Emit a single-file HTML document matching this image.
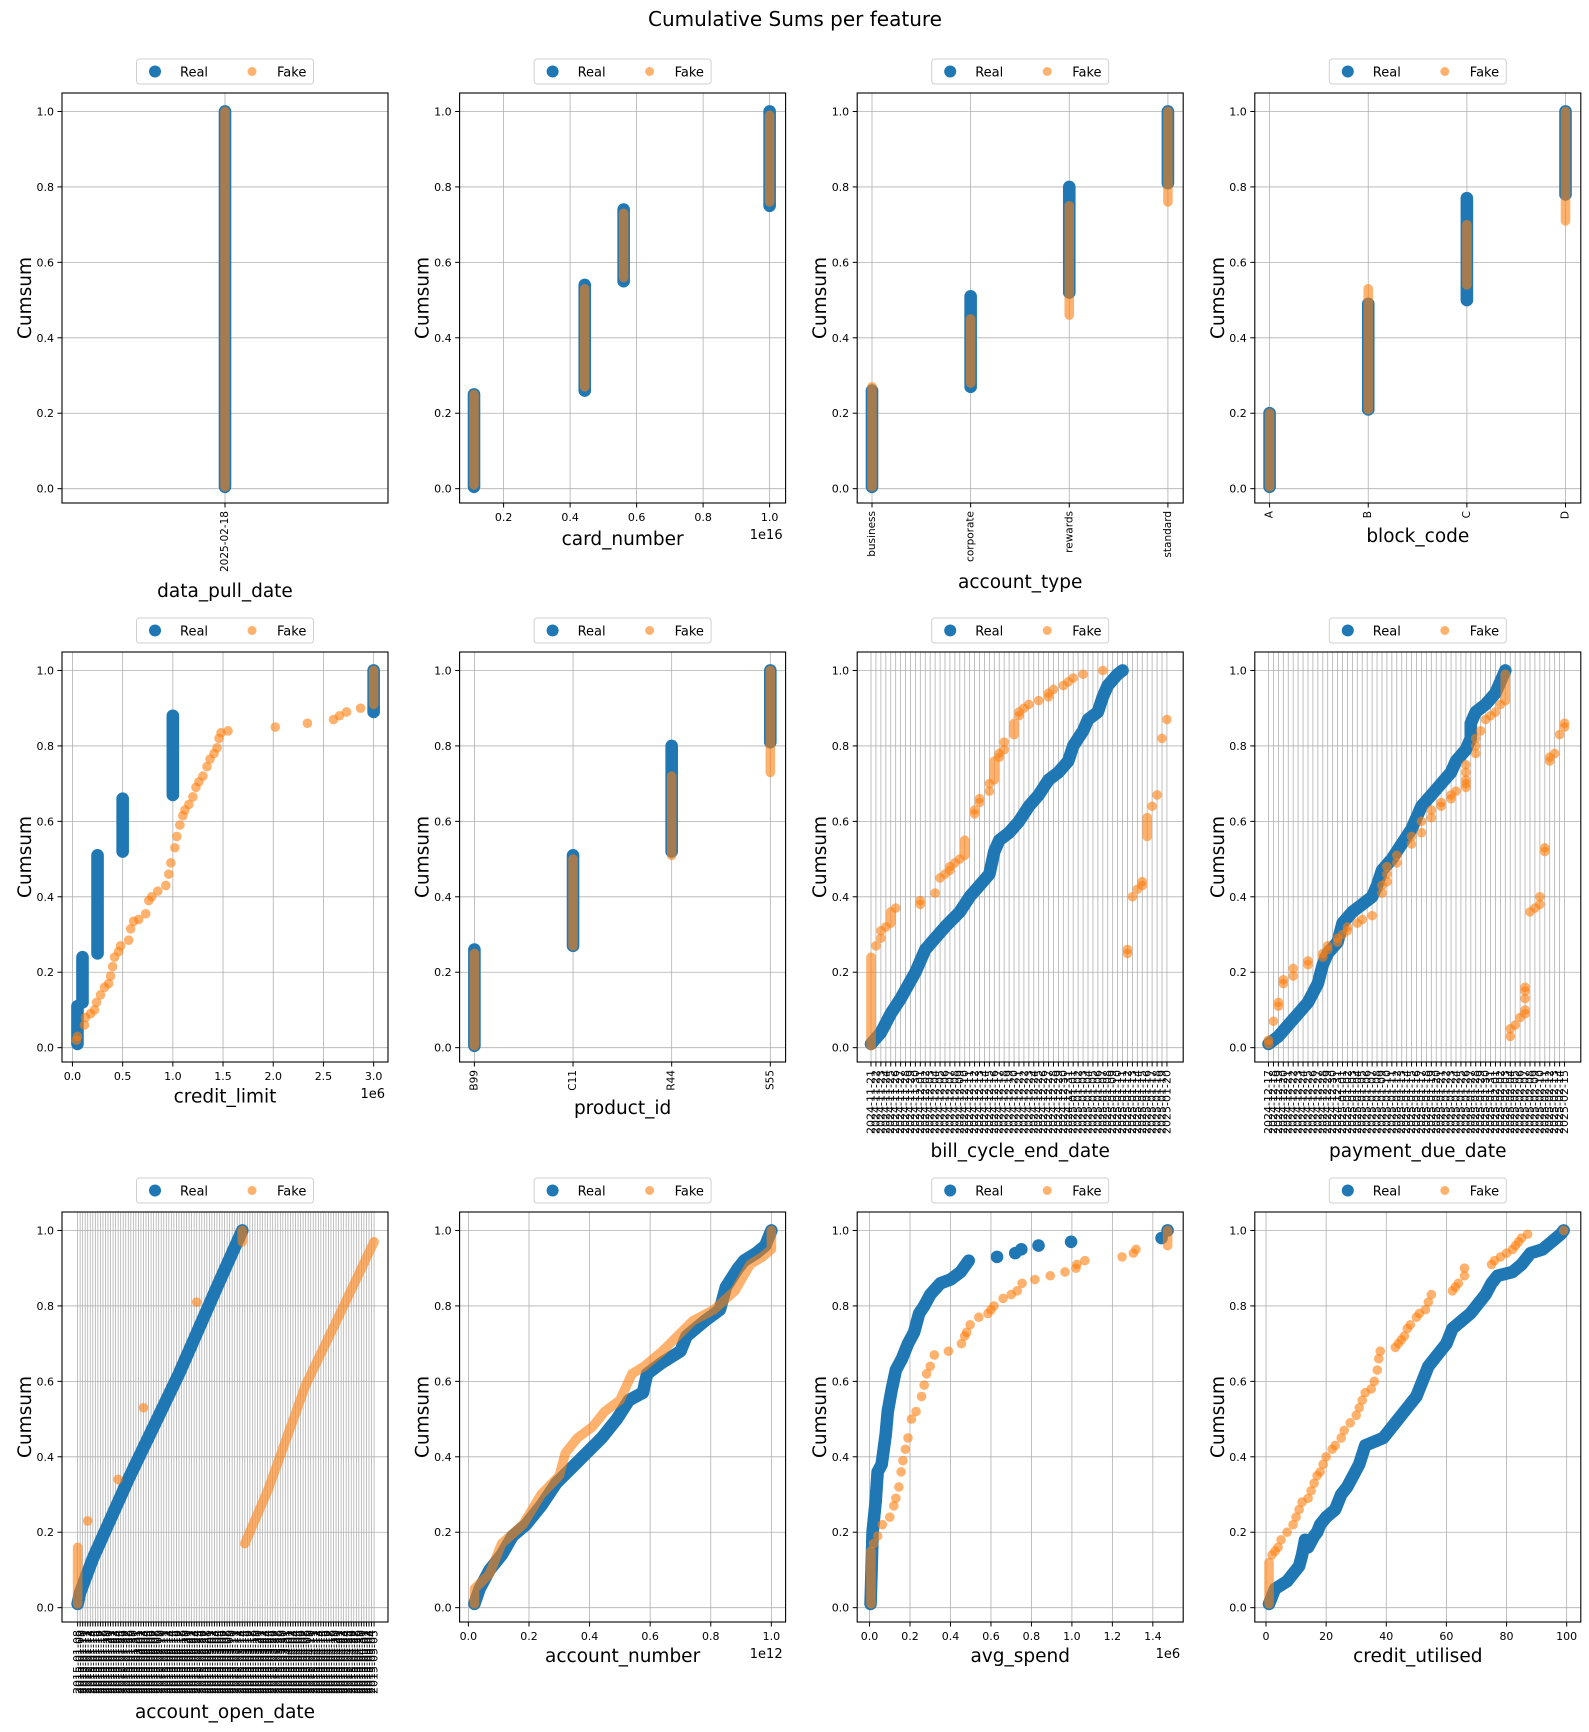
<!DOCTYPE html>
<html><head><meta charset="utf-8"><style>
html,body{margin:0;padding:0;background:#fff;}
svg{display:block;font-family:"DejaVu Sans","Liberation Sans",sans-serif;}
</style></head><body>
<svg id="chart" width="1589" height="1732" viewBox="0 0 1589 1732" xmlns="http://www.w3.org/2000/svg">
<rect x="0" y="0" width="1589" height="1732" fill="#fff"/>
<text x="795" y="26" font-size="20" text-anchor="middle" fill="#000">Cumulative Sums per feature</text>
</svg>
<script>
// ---------- data ----------
const dataPullCats=['2025-02-18'];
const dataPullRealRanges=[[0,0.005,1.0]];
const dataPullFakeRanges=[[0,0.005,1.0]];

const cardTicks=[0.2,0.4,0.6,0.8,1.0];
const cardRealRanges=[[0.111,0.005,0.25],[0.444,0.26,0.54],[0.561,0.55,0.74],[1.0,0.75,1.0]];
const cardFakeRanges=[[0.111,0.01,0.25],[0.444,0.27,0.53],[0.561,0.56,0.73],[1.0,0.76,0.99]];

const accountTypeCats=['business','corporate','rewards','standard'];
const accountTypeRealRanges=[[0,0.005,0.26],[1,0.27,0.51],[2,0.52,0.80],[3,0.81,1.0]];
const accountTypeFakeRanges=[[0,0.005,0.27],[1,0.28,0.45],[2,0.46,0.75],[3,0.76,1.0]];

const blockCodeCats=['A','B','C','D'];
const blockCodeRealRanges=[[0,0.005,0.20],[1,0.21,0.49],[2,0.50,0.77],[3,0.78,1.0]];
const blockCodeFakeRanges=[[0,0.005,0.20],[1,0.21,0.53],[2,0.54,0.70],[3,0.71,1.0]];

const creditLimitTicks=[0,0.5,1.0,1.5,2.0,2.5,3.0];
const creditLimitRealRanges=[[0.05,0.01,0.11],[0.1,0.12,0.24],[0.25,0.25,0.51],[0.5,0.52,0.66],[1.0,0.67,0.88],[3.0,0.89,1.0]];
const creditLimitFakeRanges=[[3.0,0.91,1.0]];
const creditLimitFakePoints=[[0.04,0.02],[0.05,0.03],[0.12,0.06],[0.13,0.08],[0.18,0.09],[0.22,0.10],[0.24,0.12],[0.28,0.14],[0.32,0.16],[0.36,0.17],[0.38,0.19],[0.40,0.215],[0.42,0.24],[0.46,0.255],[0.48,0.27],[0.56,0.285],[0.58,0.315],[0.61,0.335],[0.66,0.34],[0.73,0.355],[0.76,0.39],[0.79,0.40],[0.85,0.415],[0.93,0.43],[0.96,0.46],[0.98,0.49],[1.02,0.53],[1.04,0.56],[1.07,0.59],[1.10,0.615],[1.12,0.63],[1.16,0.645],[1.20,0.665],[1.23,0.69],[1.26,0.705],[1.30,0.72],[1.34,0.745],[1.37,0.765],[1.41,0.78],[1.44,0.795],[1.46,0.82],[1.48,0.835],[1.55,0.84],[2.02,0.85],[2.34,0.86],[2.60,0.87],[2.66,0.88],[2.73,0.89],[2.87,0.90]];

const productCats=['B99','C11','R44','S55'];
const productRealRanges=[[0,0.005,0.26],[1,0.27,0.51],[2,0.52,0.80],[3,0.81,1.0]];
const productFakeRanges=[[0,0.005,0.25],[1,0.27,0.50],[2,0.51,0.72],[3,0.73,1.0]];

const billCycleRealLine=[[0,0.01],[2,0.04],[4,0.09],[6,0.13],[9,0.2],[11,0.26],[13,0.29],[15,0.32],[18,0.36],[20,0.40],[22,0.43],[24,0.46],[25,0.52],[26,0.55],[28,0.57],[30,0.60],[32,0.64],[34,0.67],[36,0.71],[38,0.73],[40,0.76],[41,0.80],[43,0.84],[44,0.87],[46,0.89],[47,0.93],[48,0.96],[50,0.99],[51,1.0]];
const billCycleFakeRanges=[[0,0.005,0.24],[4,0.33,0.36],[19,0.51,0.55],[25,0.71,0.76],[29,0.83,0.86],[56,0.56,0.61]];
const billCycleFakePoints=[[1,0.27],[2,0.29],[2,0.31],[3,0.32],[5,0.37],[10,0.38],[10,0.39],[13,0.41],[14,0.45],[15,0.46],[16,0.47],[16,0.48],[17,0.49],[18,0.50],[21,0.62],[21,0.63],[22,0.65],[22,0.66],[24,0.68],[24,0.70],[26,0.77],[26,0.78],[27,0.79],[27,0.81],[30,0.88],[30,0.89],[31,0.90],[32,0.91],[34,0.92],[36,0.93],[36,0.94],[37,0.95],[39,0.96],[40,0.97],[41,0.98],[43,0.99],[47,1.0],[52,0.25],[52,0.26],[53,0.40],[54,0.42],[55,0.43],[55,0.44],[57,0.64],[58,0.67],[59,0.82],[60,0.87]];

const paymentRealLine=[[0,0.01],[2,0.03],[4,0.06],[6,0.09],[8,0.12],[10,0.17],[11,0.22],[12,0.25],[14,0.28],[15,0.33],[17,0.36],[19,0.38],[21,0.40],[22,0.43],[23,0.47],[25,0.50],[27,0.54],[29,0.58],[30,0.61],[31,0.64],[33,0.67],[35,0.70],[37,0.73],[38,0.76],[40,0.79],[41,0.82],[41,0.86],[42,0.89],[44,0.91],[46,0.94],[47,0.97],[48,1.0]];
const paymentFakeRanges=[[48,0.92,0.99]];
const paymentFakePoints=[[0,0.01],[0,0.02],[1,0.07],[2,0.11],[2,0.12],[3,0.17],[3,0.18],[5,0.19],[5,0.21],[8,0.22],[8,0.23],[11,0.24],[11,0.25],[12,0.26],[12,0.27],[14,0.28],[14,0.29],[15,0.30],[16,0.31],[16,0.32],[18,0.33],[19,0.34],[21,0.35],[23,0.41],[23,0.43],[24,0.44],[24,0.46],[24,0.48],[26,0.49],[26,0.51],[29,0.54],[29,0.56],[31,0.57],[31,0.60],[33,0.61],[33,0.63],[35,0.64],[35,0.65],[37,0.66],[37,0.67],[38,0.68],[40,0.69],[40,0.70],[40,0.71],[40,0.73],[40,0.75],[42,0.78],[42,0.80],[42,0.82],[43,0.84],[44,0.87],[45,0.88],[46,0.89],[47,0.91],[49,0.03],[49,0.05],[50,0.06],[51,0.08],[52,0.09],[52,0.10],[52,0.13],[52,0.15],[52,0.16],[53,0.36],[54,0.37],[55,0.38],[55,0.40],[56,0.52],[56,0.53],[57,0.76],[57,0.77],[58,0.78],[59,0.83],[60,0.85],[60,0.86]];

const openRealLine=[[0,0.01],[1,0.04],[6,0.13],[20,0.34],[40,0.62],[55,0.85],[65,1.0]];
const openFakeRanges=[[0,0.01,0.16],[65,0.97,1.0]];
const openFakePoints=[[4,0.23],[16,0.34],[26,0.53],[47,0.81]];
const openFakeLine=[[66,0.17],[75,0.31],[90,0.59],[105,0.80],[117,0.97]];

const acctNumTicks=[0,0.2,0.4,0.6,0.8,1.0];
const acctNumRealLine=[[0.02,0.01],[0.037,0.05],[0.07,0.10],[0.11,0.14],[0.146,0.19],[0.19,0.22],[0.24,0.27],[0.29,0.33],[0.34,0.37],[0.39,0.41],[0.44,0.45],[0.49,0.50],[0.53,0.55],[0.576,0.57],[0.59,0.62],[0.64,0.65],[0.70,0.68],[0.72,0.72],[0.78,0.76],[0.83,0.79],[0.85,0.85],[0.89,0.90],[0.91,0.92],[0.95,0.94],[0.98,0.96],[1.0,1.0]];
const acctNumFakeLine=[[0.02,0.01],[0.02,0.05],[0.07,0.09],[0.11,0.17],[0.18,0.22],[0.24,0.30],[0.30,0.35],[0.32,0.41],[0.36,0.45],[0.41,0.48],[0.45,0.52],[0.50,0.55],[0.54,0.62],[0.58,0.64],[0.64,0.68],[0.69,0.72],[0.74,0.76],[0.81,0.79],[0.88,0.84],[0.93,0.91],[0.97,0.93],[1.0,0.95],[1.0,1.0]];

const avgSpendTicks=[0,0.2,0.4,0.6,0.8,1.0,1.2,1.4];
const avgSpendRealLine=[[0.005,0.01],[0.01,0.10],[0.015,0.20],[0.03,0.28],[0.04,0.36],[0.06,0.38],[0.08,0.46],[0.09,0.52],[0.11,0.58],[0.13,0.63],[0.16,0.66],[0.19,0.70],[0.22,0.73],[0.245,0.78],[0.27,0.80],[0.30,0.83],[0.35,0.86],[0.40,0.87],[0.45,0.89],[0.49,0.92]];
const avgSpendRealPoints=[[0.63,0.93],[0.72,0.94],[0.75,0.95],[0.835,0.96],[0.996,0.97],[1.443,0.98],[1.473,1.0]];
const avgSpendFakeRanges=[[0.007,0.01,0.15],[1.473,0.96,1.0]];
const avgSpendFakePoints=[[0.02,0.17],[0.04,0.19],[0.063,0.22],[0.10,0.24],[0.12,0.27],[0.13,0.29],[0.145,0.32],[0.156,0.36],[0.165,0.39],[0.177,0.42],[0.19,0.45],[0.207,0.50],[0.23,0.52],[0.257,0.56],[0.27,0.59],[0.282,0.62],[0.30,0.64],[0.32,0.67],[0.39,0.68],[0.454,0.70],[0.47,0.72],[0.48,0.73],[0.497,0.75],[0.54,0.77],[0.585,0.78],[0.60,0.79],[0.615,0.80],[0.66,0.82],[0.70,0.83],[0.73,0.84],[0.754,0.86],[0.817,0.87],[0.893,0.88],[0.966,0.89],[1.02,0.90],[1.025,0.91],[1.064,0.92],[1.248,0.93],[1.304,0.94],[1.317,0.95]];

const utilTicks=[0,20,40,60,80,100];
const utilRealLine=[[1,0.01],[2,0.03],[3,0.05],[5,0.06],[7,0.07],[9,0.09],[11,0.11],[12,0.14],[13,0.18],[14,0.16],[16,0.19],[17,0.20],[18,0.22],[20,0.24],[23,0.26],[25,0.30],[27,0.32],[29,0.35],[31,0.38],[33,0.43],[36,0.44],[39,0.45],[41,0.47],[44,0.50],[47,0.53],[50,0.56],[52,0.60],[54,0.64],[57,0.67],[60,0.70],[62,0.74],[65,0.76],[68,0.78],[70,0.80],[73,0.83],[75,0.86],[77,0.88],[82,0.89],[85,0.91],[88,0.94],[92,0.95],[95,0.97],[98,0.99],[99,1.0]];
const utilFakeRanges=[[1,0.01,0.12]];
const utilFakePoints=[[2,0.14],[3,0.15],[4,0.16],[5,0.18],[7,0.20],[9,0.22],[10,0.24],[11,0.26],[12,0.28],[14,0.29],[15,0.31],[16,0.33],[17,0.35],[18,0.36],[19,0.38],[20,0.40],[22,0.42],[23,0.43],[25,0.45],[26,0.47],[28,0.49],[30,0.51],[31,0.53],[32,0.55],[33,0.57],[35,0.58],[36,0.60],[37,0.63],[37.5,0.66],[38,0.68],[43,0.69],[44,0.70],[45,0.71],[46,0.72],[47,0.74],[48,0.75],[50,0.77],[51,0.78],[53,0.79],[54,0.81],[55,0.83],[62,0.84],[63,0.85],[64,0.86],[66,0.88],[66,0.90],[75,0.91],[76,0.92],[78,0.93],[80,0.94],[82,0.95],[83,0.96],[84,0.97],[85,0.98],[87,0.99],[99,1.0]];

const yTicks=[0,0.2,0.4,0.6,0.8,1.0];

// ---------- date tick labels ----------
function dateLabels(start,n){const out=[];const d=new Date(start+'T00:00:00Z');for(let i=0;i<n;i++){out.push(d.toISOString().slice(0,10));d.setUTCDate(d.getUTCDate()+1);}return out;}
const billCycleCats=dateLabels('2024-11-21',61);
const paymentCats=dateLabels('2024-12-17',61);
const openCats=dateLabels('2015-01-08',118);

// ---------- layout ----------
const NS='http://www.w3.org/2000/svg';
const svg=document.getElementById('chart');
const COLX=[62,459.6,857.2,1254.8], ROWY=[93,652,1212], W=326, H=410;
const YMIN=-0.038, YMAX=1.049;
const BLUE='#1f77b4', ORANGE='#ff7f0e';
const RR=6.3, RF=4.8, FA=0.6;

function mk(tag,parent,name,inter){const e=document.createElementNS(NS,tag);


parent.appendChild(e);return e;}
function at(e,o){for(const k in o)e.setAttribute(k,o[k]);return e;}

function fmt(v,dec){return v.toFixed(dec);}

function panel(p){
  const x0=COLX[p.col], y0=ROWY[p.row];
  const g=mk('g',svg,'panel-'+p.name,false);
  const xs=v=>x0+(v-p.xdom[0])/(p.xdom[1]-p.xdom[0])*W;
  const ys=v=>y0+(YMAX-v)/(YMAX-YMIN)*H;
  const grid=mk('g',g,p.name+'-grid',false);
  let xt=p.cats?p.cats.map((c,i)=>i):p.ticks;
  xt.forEach(v=>{const l=mk('line',grid,'x-gridline',false);at(l,{x1:xs(v),x2:xs(v),y1:y0,y2:y0+H,stroke:'#b0b0b0','stroke-width':0.8});});
  yTicks.forEach(v=>{const l=mk('line',grid,'y-gridline',false);at(l,{x1:x0,x2:x0+W,y1:ys(v),y2:ys(v),stroke:'#b0b0b0','stroke-width':0.8});});
  const dg=mk('g',g,p.name+'-data',false);
  ['real','fake'].forEach(who=>{
    const col=who==='real'?BLUE:ORANGE, r=who==='real'?RR:RF, op=who==='real'?1:FA;
    const s=p[who]||{};
    (s.ranges||[]).forEach(d=>{const l=mk('line',dg,who+'-column',false);at(l,{x1:xs(d[0]),x2:xs(d[0]),y1:ys(d[1]),y2:ys(d[2]),stroke:col,'stroke-width':2*r,'stroke-linecap':'round','stroke-opacity':op});});
    (s.lines||[]).forEach(arr=>{const pl=mk('polyline',dg,who+'-cumsum-run',false);at(pl,{points:arr.map(d=>xs(d[0])+','+ys(d[1])).join(' '),fill:'none',stroke:col,'stroke-width':2*r,'stroke-linecap':'round','stroke-linejoin':'round','stroke-opacity':op});});
    (s.points||[]).forEach(arr=>arr.forEach(d=>{const c=mk('circle',dg,who+'-point',false);at(c,{cx:xs(d[0]),cy:ys(d[1]),r:r,fill:col,'fill-opacity':op});}));
  });
  const sp=mk('rect',g,p.name+'-axes-frame',false);at(sp,{x:x0,y:y0,width:W,height:H,fill:'none',stroke:'#000','stroke-width':1.1});
  const yg=mk('g',g,p.name+'-y-axis',false);
  yTicks.forEach(v=>{const l=mk('line',yg,'y-tick',false);at(l,{x1:x0-4.5,x2:x0,y1:ys(v),y2:ys(v),stroke:'#000','stroke-width':1});
    const t=mk('text',yg,'y-tick-label',false);at(t,{x:x0-8,y:ys(v)+4,'font-size':11,'text-anchor':'end'});t.textContent=fmt(v,1);});
  const yl=mk('text',yg,'y-axis-title',false);at(yl,{x:0,y:0,'font-size':18.5,'text-anchor':'middle',transform:`translate(${x0-37},${y0+H/2}) rotate(-90) translate(0,6)`});yl.textContent='Cumsum';
  const xg=mk('g',g,p.name+'-x-axis',false);
  xt.forEach((v,i)=>{const l=mk('line',xg,'x-tick',false);at(l,{x1:xs(v),x2:xs(v),y1:y0+H,y2:y0+H+4.5,stroke:'#000','stroke-width':1});
    const t=mk('text',xg,'x-tick-label',false);
    if(p.cats){at(t,{x:0,y:0,'font-size':p.catSize||10.5,'text-anchor':'end','dominant-baseline':'central',transform:`translate(${xs(v)},${y0+H+8}) rotate(-90)`});t.textContent=p.cats[i];}
    else{at(t,{x:xs(v),y:y0+H+18,'font-size':11,'text-anchor':'middle'});t.textContent=p.tickFmt(v);}
  });
  const xl=mk('text',xg,'x-axis-title',false);at(xl,{x:x0+W/2,y:y0+H+p.xlOff+6,'font-size':18.5,'text-anchor':'middle'});xl.textContent=p.label;
  if(p.offset){const ot=mk('text',xg,'x-offset-text',false);at(ot,{x:x0+W-3,y:y0+H+36,'font-size':13,'text-anchor':'end'});ot.textContent=p.offset;}
  const cx=x0+W/2, ly=y0-34;
  const lg=mk('g',g,p.name+'-legend',true);
  const lb=mk('rect',lg,'legend-box',false);at(lb,{x:cx-88.5,y:ly,width:177,height:25,rx:3,fill:'#fff','fill-opacity':0.8,stroke:'#d0d0d0','stroke-width':1});
  const m1=mk('circle',lg,'legend-real-marker',false);at(m1,{cx:cx-70,cy:ly+12.5,r:6,fill:BLUE});
  const t1=mk('text',lg,'legend-real-label',false);at(t1,{x:cx-45,y:ly+17.5,'font-size':13});t1.textContent='Real';
  const m2=mk('circle',lg,'legend-fake-marker',false);at(m2,{cx:cx+27,cy:ly+12.5,r:4.5,fill:ORANGE,'fill-opacity':FA});
  const t2=mk('text',lg,'legend-fake-label',false);at(t2,{x:cx+52,y:ly+17.5,'font-size':13});t2.textContent='Fake';
}
const f1=v=>v.toFixed(1), f0=v=>v.toFixed(0);
const CAT4=[-0.15,3.155];
const panels=[
 {name:'data-pull-date',row:0,col:0,xdom:[-1,1],cats:dataPullCats,label:'data_pull_date',xlOff:88,real:{ranges:dataPullRealRanges},fake:{ranges:dataPullFakeRanges}},
 {name:'card-number',row:0,col:1,xdom:[0.0677,1.048],ticks:cardTicks,tickFmt:f1,offset:'1e16',label:'card_number',xlOff:36,real:{ranges:cardRealRanges},fake:{ranges:cardFakeRanges}},
 {name:'account-type',row:0,col:2,xdom:CAT4,cats:accountTypeCats,label:'account_type',xlOff:79,real:{ranges:accountTypeRealRanges},fake:{ranges:accountTypeFakeRanges}},
 {name:'block-code',row:0,col:3,xdom:CAT4,cats:blockCodeCats,label:'block_code',xlOff:33,real:{ranges:blockCodeRealRanges},fake:{ranges:blockCodeFakeRanges}},
 {name:'credit-limit',row:1,col:0,xdom:[-0.104,3.143],ticks:creditLimitTicks,tickFmt:f1,offset:'1e6',label:'credit_limit',xlOff:34.5,real:{ranges:creditLimitRealRanges},fake:{ranges:creditLimitFakeRanges,points:[creditLimitFakePoints]}},
 {name:'product-id',row:1,col:1,xdom:CAT4,cats:productCats,label:'product_id',xlOff:46,real:{ranges:productRealRanges},fake:{ranges:productFakeRanges}},
 {name:'bill-cycle-end-date',row:1,col:2,xdom:[-2.8,63.3],cats:billCycleCats,catSize:11,label:'bill_cycle_end_date',xlOff:89,real:{lines:[billCycleRealLine]},fake:{ranges:billCycleFakeRanges,points:[billCycleFakePoints]}},
 {name:'payment-due-date',row:1,col:3,xdom:[-2.78,63.3],cats:paymentCats,catSize:11,label:'payment_due_date',xlOff:89,real:{lines:[paymentRealLine]},fake:{ranges:paymentFakeRanges,points:[paymentFakePoints]}},
 {name:'account-open-date',row:2,col:0,xdom:[-6.16,122.5],cats:openCats,catSize:11,label:'account_open_date',xlOff:90,real:{lines:[openRealLine]},fake:{ranges:openFakeRanges,lines:[openFakeLine],points:[openFakePoints]}},
 {name:'account-number',row:2,col:1,xdom:[-0.029,1.047],ticks:acctNumTicks,tickFmt:f1,offset:'1e12',label:'account_number',xlOff:34,real:{lines:[acctNumRealLine]},fake:{lines:[acctNumFakeLine]}},
 {name:'avg-spend',row:2,col:2,xdom:[-0.061,1.55],ticks:avgSpendTicks,tickFmt:f1,offset:'1e6',label:'avg_spend',xlOff:34,real:{lines:[avgSpendRealLine],points:[avgSpendRealPoints]},fake:{ranges:avgSpendFakeRanges,points:[avgSpendFakePoints]}},
 {name:'credit-utilised',row:2,col:3,xdom:[-3.73,104.7],ticks:utilTicks,tickFmt:f0,label:'credit_utilised',xlOff:34,real:{lines:[utilRealLine]},fake:{ranges:utilFakeRanges,points:[utilFakePoints]}}
];
panels.forEach(panel);
</script>
</body></html>
